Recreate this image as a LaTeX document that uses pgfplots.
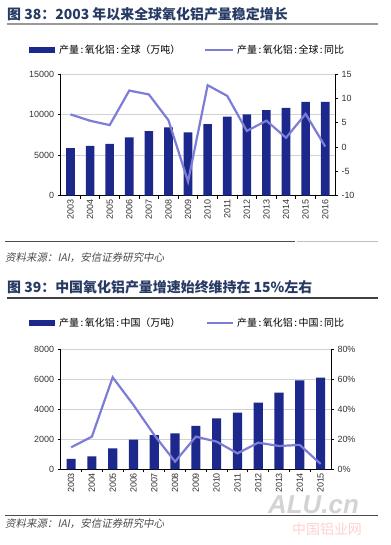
\documentclass[border=0pt]{standalone}
\usepackage{pgfplots}
\pgfplotsset{compat=1.18}
\usepackage{fontspec}
\setmainfont{Liberation Sans}
\newfontfamily\cjk{Noto Sans CJK SC}
\newfontfamily\cjkit[FakeSlant=0.2]{Noto Sans CJK SC}
\definecolor{barblue}{RGB}{28,40,140}
\definecolor{lineblue}{RGB}{125,125,215}
\definecolor{titleblue}{RGB}{38,58,100}
\pgfplotsset{
  base/.style={scale only axis, anchor=south west,
    axis line style={black, line width=0.8bp},
    tick style={black, line width=0.8bp},
    tick align=outside, major tick length=3bp,
    scaled y ticks=false,
    ticklabel style={font=\fontsize{9}{10}\selectfont, text=black!80},
  },
}
\begin{document}
\begin{tikzpicture}
\path[use as bounding box] (0bp,0bp) rectangle (391bp,545bp);
% ---------- Chart 1 ----------
\node[anchor=west, inner sep=0] at (7bp,531bp) {\cjk\bfseries\color{titleblue}\fontsize{14}{14}\selectfont 图 38：2003 年以来全球氧化铝产量稳定增长};
\draw[gray!80, line width=1.5bp] (7bp,521bp) -- (378bp,521bp);
\fill[barblue] (29bp,492bp) rectangle (55bp,498bp);
\node[anchor=west, inner sep=0] at (59bp,495bp) {\cjk\fontsize{10}{10}\selectfont 产量\hspace{1.5bp}:\hspace{1.5bp}氧化铝\hspace{1.5bp}:\hspace{1.5bp}全球（万吨）};
\draw[lineblue, line width=2bp] (205bp,495bp) -- (233bp,495bp);
\node[anchor=west, inner sep=0] at (237bp,495bp) {\cjk\fontsize{10}{10}\selectfont 产量\hspace{1.5bp}:\hspace{1.5bp}氧化铝\hspace{1.5bp}:\hspace{1.5bp}全球\hspace{1.5bp}:\hspace{1.5bp}同比};

\begin{axis}[base, at={(60.7bp,349.3bp)}, width=274.3bp, height=121.7bp,
  xmin=-0.5, xmax=13.5, ymin=0, ymax=15000,
  axis y line*=left, axis x line*=bottom,
  ytick={0,5000,10000,15000}, yticklabels={0,5000,10000,15000},
  ymajorgrids, grid style={gray!35, line width=0.6bp},
  xtick={0.5,1.5,...,12.5}, xticklabels={},
  extra x ticks={0,1,...,13},
  extra x tick labels={2003,2004,2005,2006,2007,2008,2009,2010,2011,2012,2013,2014,2015,2016},
  extra x tick style={major tick length=0pt, tick label style={rotate=90, anchor=east}},
  ]
\addplot[ybar, bar width=0.44, fill=barblue, draw=none] coordinates {
(0,5850) (1,6150) (2,6400) (3,7200) (4,7950) (5,8430) (6,7800)
(7,8830) (8,9740) (9,10030) (10,10560) (11,10810) (12,11550) (13,11550)};
\end{axis}
\begin{axis}[base, at={(60.7bp,349.3bp)}, width=274.3bp, height=121.7bp,
  xmin=-0.5, xmax=13.5, ymin=-10, ymax=15,
  axis y line*=right, axis x line=none,
  ytick={-10,-5,0,5,10,15}, yticklabels={-10,-5,0,5,10,15},
  ]
\addplot[lineblue, line width=2.2bp, mark=none] coordinates {
(0,6.7) (1,5.4) (2,4.5) (3,11.6) (4,10.8) (5,5.5) (6,-7.1)
(7,12.7) (8,10.5) (9,3.3) (10,5.4) (11,1.9) (12,6.8) (13,0.1)};
\end{axis}
\draw[black!70, line width=0.8bp] (5bp,303.3bp) -- (295bp,303.3bp);
\draw[black!25, line width=0.8bp] (297bp,303.3bp) -- (378bp,303.3bp);
\node[anchor=west, inner sep=0] at (5bp,287bp) {\cjkit\fontsize{10.5}{10.5}\selectfont\color{black!70} 资料来源：IAI，安信证券研究中心};

% ---------- Chart 2 ----------
\node[anchor=west, inner sep=0] at (7bp,258bp) {\cjk\bfseries\color{titleblue}\fontsize{14}{14}\selectfont 图 39：中国氧化铝产量增速始终维持在 15\%左右};
\draw[black!75, line width=1.2bp] (7bp,247bp) -- (378bp,247bp);
\fill[barblue] (29bp,219bp) rectangle (55bp,225bp);
\node[anchor=west, inner sep=0] at (59bp,222bp) {\cjk\fontsize{10}{10}\selectfont 产量\hspace{1.5bp}:\hspace{1.5bp}氧化铝\hspace{1.5bp}:\hspace{1.5bp}中国（万吨）};
\draw[lineblue, line width=2bp] (207bp,222bp) -- (233bp,222bp);
\node[anchor=west, inner sep=0] at (237bp,222bp) {\cjk\fontsize{10}{10}\selectfont 产量\hspace{1.5bp}:\hspace{1.5bp}氧化铝\hspace{1.5bp}:\hspace{1.5bp}中国\hspace{1.5bp}:\hspace{1.5bp}同比};

\begin{axis}[base, at={(60.7bp,75.5bp)}, width=270.3bp, height=120.5bp,
  xmin=-0.5, xmax=12.5, ymin=0, ymax=8000,
  axis y line*=left, axis x line*=bottom,
  ytick={0,2000,4000,6000,8000}, yticklabels={0,2000,4000,6000,8000},
  ymajorgrids, grid style={gray!35, line width=0.6bp},
  xtick={0.5,1.5,...,11.5}, xticklabels={},
  extra x ticks={0,1,...,12},
  extra x tick labels={2003,2004,2005,2006,2007,2008,2009,2010,2011,2012,2013,2014,2015},
  extra x tick style={major tick length=0pt, tick label style={rotate=90, anchor=east}},
  ]
\addplot[ybar, bar width=0.44, fill=barblue, draw=none] coordinates {
(0,700) (1,875) (2,1400) (3,1980) (4,2290) (5,2400) (6,2890)
(7,3400) (8,3770) (9,4440) (10,5100) (11,5920) (12,6100)};
\end{axis}
\begin{axis}[base, at={(60.7bp,75.5bp)}, width=270.3bp, height=120.5bp,
  xmin=-0.5, xmax=12.5, ymin=0, ymax=80,
  axis y line*=right, axis x line=none,
  ytick={0,20,40,60,80}, yticklabels={0\%,20\%,40\%,60\%,80\%},
  ]
\addplot[lineblue, line width=2.2bp, mark=none] coordinates {
(0,14.7) (1,21.8) (2,61.2) (3,42.8) (4,22.9) (5,5.2) (6,21.8)
(7,18.5) (8,10.7) (9,17.8) (10,15.6) (11,16.3) (12,3.7)};
\end{axis}
\draw[black!70, line width=0.8bp] (5bp,29.3bp) -- (378bp,29.3bp);
\node[anchor=west, inner sep=0] at (5bp,21bp) {\cjkit\fontsize{10.5}{10.5}\selectfont\color{black!70} 资料来源：IAI，安信证券研究中心};
% watermark
\node[anchor=west, inner sep=0, opacity=0.35] at (268bp,40bp) {\fontsize{26}{26}\selectfont\bfseries\itshape\color{gray} ALU.cn};
\node[anchor=west, inner sep=0, opacity=0.3] at (292bp,16bp) {\cjk\fontsize{14}{14}\selectfont\color{red!60} 中国铝业网};
\end{tikzpicture}
\end{document}
